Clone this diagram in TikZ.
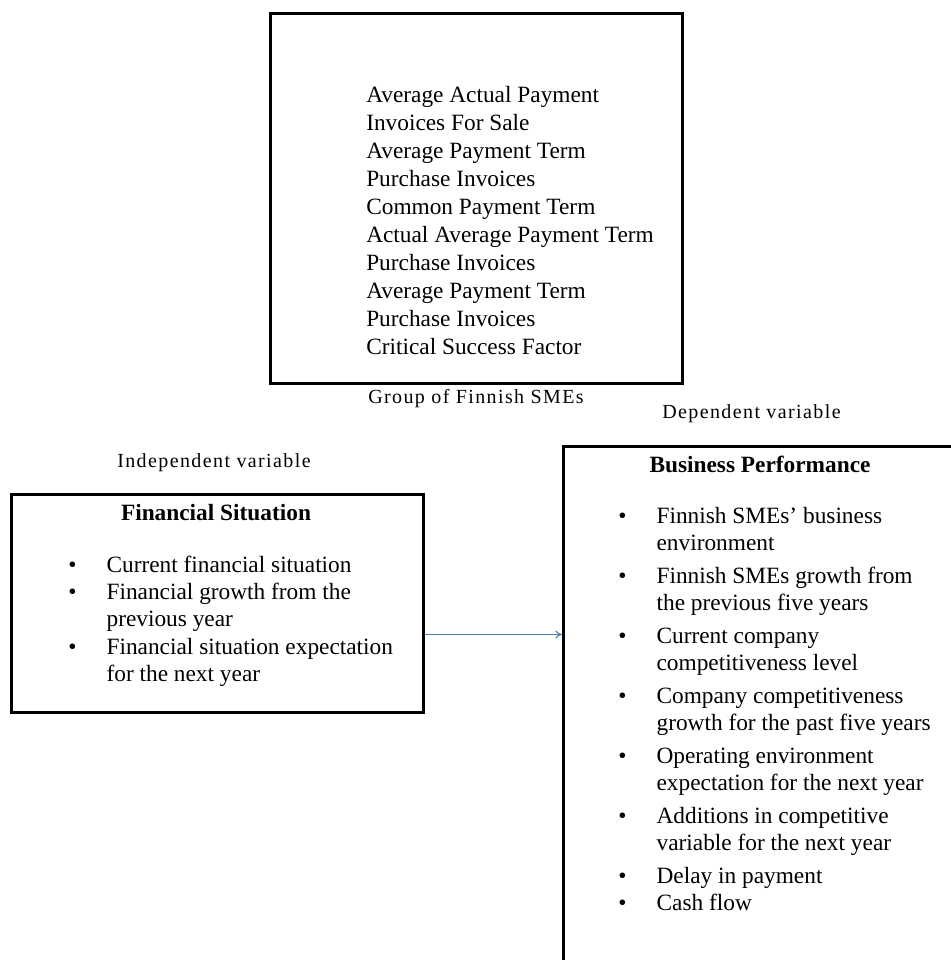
\documentclass[tikz,border=0pt]{standalone}
\usepackage{fontspec}
\setmainfont{Liberation Serif}
\newfontfamily\lblfont[LetterSpace=7]{Liberation Serif}
\usetikzlibrary{arrows.meta,calc}
\definecolor{linkblue}{HTML}{4F7FAF}
\newcommand\bul{\makebox[28.75pt][l]{\textbullet}}
\newcommand\nob{\hspace*{28.75pt}}
\begin{document}
\begin{tikzpicture}[x=0.75pt,y=-0.75pt,
  box/.style={draw=black,line width=2.2pt,rectangle,inner sep=0pt,anchor=north west},
  body/.style={anchor=base west,inner sep=0pt,font=\fontsize{17.5}{20.5}\selectfont},
  lbl/.style={anchor=base west,inner sep=0pt,font=\lblfont\fontsize{15}{18}\selectfont},
  ttl/.style={anchor=base,inner sep=0pt,font=\bfseries\fontsize{17.5}{21}\selectfont},
  link/.style={draw=linkblue,line width=0.8pt,-{To[length=5pt,width=6pt]}}]
\useasboundingbox (0,0) rectangle (950,960);

% boxes
\node[box,minimum width=309pt,minimum height=277.5pt] (grp) at (269,12) {};
\node[box,minimum width=309pt,minimum height=163.5pt] (fin) at (10,493) {};
\node[box,minimum width=297pt,minimum height=388.5pt] (bus) at (562,445) {};

% top box text
\node[body,font=\fontsize{17.5}{21}\selectfont] (grptxt) at (366,102) {\parbox[t]{300pt}{%
Average Actual Payment\\
Invoices For Sale\\
Average Payment Term\\
Purchase Invoices\\
Common Payment Term\\
Actual Average Payment Term\\
Purchase Invoices\\
Average Payment Term\\
Purchase Invoices\\
Critical Success Factor}};

% labels
\node[lbl] (grplbl) at (368,403) {Group of Finnish SMEs};
\node[lbl] (dep) at (662,418) {Dependent variable};
\node[lbl] (indep) at (117,467) {Independent variable};

% left box content
\node[ttl] (fintitle) at (216,520) {Financial Situation};
\node[body] (finlist) at (68,572) {\parbox[t]{300pt}{%
\bul Current financial situation\\
\bul Financial growth from the\\
\nob previous year\\
\bul Financial situation expectation\\
\nob for the next year}};

% right box content
\node[ttl] (bustitle) at (760,472) {Business Performance};
\node[body,font=\fontsize{17.5}{20.25}\selectfont] (buslist) at (618,523) {\parbox[t]{300pt}{%
\bul Finnish SMEs’ business\\
\nob environment\\[4.5pt]
\bul Finnish SMEs growth from\\
\nob the previous five years\\[4.5pt]
\bul Current company\\
\nob competitiveness level\\[4.5pt]
\bul Company competitiveness\\
\nob growth for the past five years\\[4.5pt]
\bul Operating environment\\
\nob expectation for the next year\\[4.5pt]
\bul Additions in competitive\\
\nob variable for the next year\\[4.5pt]
\bul Delay in payment\\
\bul Cash flow}};

% connector
\draw[link] ([yshift=-23.25pt]fin.east) coordinate (as) -- (as -| bus.west);
\end{tikzpicture}
\end{document}
